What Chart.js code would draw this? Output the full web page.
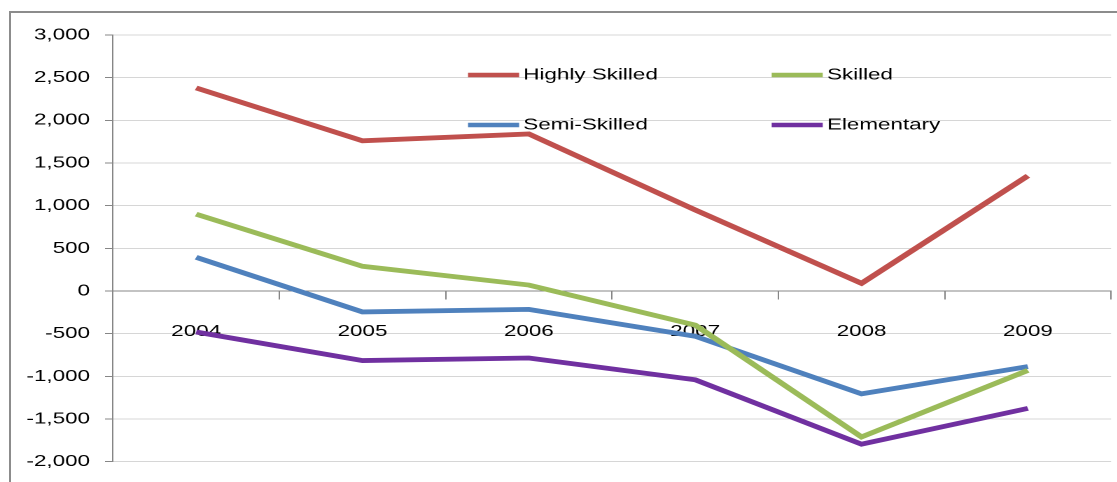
<!DOCTYPE html>
<html>
<head>
<meta charset="utf-8">
<script src="https://cdn.jsdelivr.net/npm/chart.js@4/dist/chart.umd.min.js"></script>
<style>
  body { margin: 0; background: #fff; overflow: hidden; }
  #frame { position: absolute; left: 9px; top: 11px; width: 1120px; height: 480px;
           border-top: 2px solid #8c8c8c; border-left: 2px solid #8c8c8c; }
  #wrap { position: absolute; left: 0; top: 0; width: 798px; height: 482px;
          transform: scaleX(1.4); transform-origin: 0 0; }
</style>
</head>
<body>
<div id="frame"></div>
<div id="wrap"><canvas id="chart" width="798" height="482"></canvas></div>
<script>
// years on the category axis
const anios = ["2004", "2005", "2006", "2007", "2008", "2009"];

// series
const highlySkilled = [2380, 1760, 1840, 950, 90, 1350];
const skilled = [900, 290, 70, -400, -1710, -930];
const semiSkilled = [395, -245, -215, -530, -1205, -885];
const elementary = [-480, -815, -785, -1040, -1795, -1375];

const nombres = ["Highly Skilled", "Skilled", "Semi-Skilled", "Elementary"];
const colores = ["#C0504D", "#9BBB59", "#4F81BD", "#7030A0"];

const fuente = { family: "'Liberation Sans', Arial, sans-serif", size: 16 };

// legend drawn by hand, two columns like the original
const leyenda = {
  id: "leyenda",
  afterDatasetsDraw(chart) {
    const ctx = chart.ctx;
    const lugares = [[334.3, 75], [551.2, 75], [334.3, 125], [551.2, 125]];
    ctx.save();
    chart.data.datasets.forEach((ds, i) => {
      const [x, y] = lugares[i];
      ctx.strokeStyle = ds.borderColor;
      ctx.lineWidth = 4.5;
      ctx.beginPath();
      ctx.moveTo(x, y);
      ctx.lineTo(x + 36.5, y);
      ctx.stroke();
      ctx.fillStyle = "#000";
      ctx.font = "16px 'Liberation Sans', Arial, sans-serif";
      ctx.textBaseline = "middle";
      ctx.fillText(ds.label, x + 39.5, y);
    });
    ctx.restore();
  }
};

const series = [highlySkilled, skilled, semiSkilled, elementary];

new Chart(document.getElementById("chart"), {
  type: "line",
  data: {
    labels: anios,
    datasets: series.map((s, i) => ({
      label: nombres[i],
      data: s,
      borderColor: colores[i],
      backgroundColor: colores[i],
      borderWidth: 4.8,
      pointRadius: 0,
      tension: 0,
      fill: false
    }))
  },
  options: {
    responsive: false,
    animation: false,
    devicePixelRatio: 2,
    layout: { padding: { left: 0, right: 4.4, top: 35, bottom: 6.4 } },
    plugins: { legend: { display: false }, tooltip: { enabled: false } },
    scales: {
      x: {
        type: "category",
        offset: true,
        position: { y: 0 },
        afterFit: (s) => { s.height = 0; },
        grid: { drawOnChartArea: false, drawTicks: true, tickLength: 8, tickColor: "#868686", offset: true },
        border: { color: "#868686", width: 1 },
        ticks: { color: "#000", font: fuente, padding: 23, maxRotation: 0 }
      },
      y: {
        min: -2000,
        max: 3000,
        afterFit: (s) => { s.width = 80.7; },
        grid: { color: "#d6d6d6", lineWidth: 1, drawTicks: true, tickLength: 5.7, tickColor: "#868686" },
        border: { color: "#868686", width: 1 },
        ticks: { stepSize: 500, color: "#000", font: fuente, padding: 10.7 }
      }
    }
  },
  plugins: [leyenda]
});
</script>
</body>
</html>
